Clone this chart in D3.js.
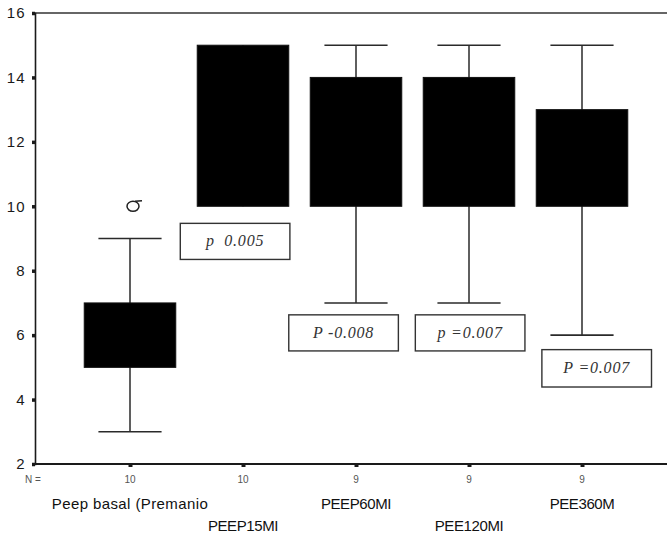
<!DOCTYPE html>
<html>
<head>
<meta charset="utf-8">
<script src="https://cdn.jsdelivr.net/npm/d3@7"></script>
<style>
  html, body { margin: 0; padding: 0; background: #fff; }
  svg { display: block; }
  text { white-space: pre; }
</style>
</head>
<body>
<svg id="chart" width="667" height="542"></svg>
<script>
// ---- data ----
const categories = ["Peep basal (Premanio", "PEEP15MI", "PEEP60MI", "PEE120MI", "PEE360M"];
const nCounts    = [10, 10, 9, 9, 9];
const whiskerMin = [3, 10, 7, 7, 6];
const q1Values   = [5, 10, 10, 10, 10];
const q3Values   = [7, 15, 14, 14, 13];
const whiskerMax = [9, 15, 15, 15, 15];
const outliers   = [{cat: "Peep basal (Premanio", value: 10}];
const yTicks     = [2, 4, 6, 8, 10, 12, 14, 16];
// p-value annotations: anchored to a category, offset as fraction of band step, y-range in data units
const pLabels    = [
  {cat: "PEEP15MI", dx: -0.07, top: 9.47, bottom: 8.35, text: "p  0.005"},
  {cat: "PEEP60MI", dx: -0.11, top: 6.63, bottom: 5.51, text: "P -0.008"},
  {cat: "PEE120MI", dx: 0.01,  top: 6.63, bottom: 5.51, text: "p =0.007"},
  {cat: "PEE360M",  dx: 0.13,  top: 5.55, bottom: 4.39, text: "P =0.007"}
];

// ---- layout ----
const svg = d3.select("#chart");
const axisLeftX = 35, plotRight = 667, plotTop = 13, plotBottom = 464;
const ink = "#1a1a1a";

const y = d3.scaleLinear().domain([2, 16]).range([plotBottom, plotTop]);
const x = d3.scaleBand().domain(categories).range([73.5, 638.5])
  .paddingInner(0.19).paddingOuter(0.095);

const boxes = categories.map((c, i) => ({
  cat: c, n: nCounts[i], lo: whiskerMin[i], q1: q1Values[i], q3: q3Values[i], hi: whiskerMax[i]
}));

// frame: top line, bottom axis
svg.append("line").attr("x1", axisLeftX).attr("x2", plotRight)
  .attr("y1", plotTop).attr("y2", plotTop)
  .attr("stroke", "#333").attr("stroke-width", 1.6);
svg.append("line").attr("x1", axisLeftX).attr("x2", plotRight)
  .attr("y1", plotBottom).attr("y2", plotBottom)
  .attr("stroke", ink).attr("stroke-width", 1.8);

// y axis
const yAxis = svg.append("g").attr("transform", `translate(${axisLeftX},0)`)
  .call(d3.axisLeft(y).tickValues(yTicks).tickSize(3).tickPadding(6).tickFormat(d3.format("d")));
yAxis.select(".domain").attr("stroke", ink).attr("stroke-width", 1.6);
yAxis.selectAll(".tick line").attr("stroke", ink).attr("stroke-width", 3.5);
yAxis.selectAll(".tick text")
  .attr("font-family", "Liberation Sans, Arial, sans-serif")
  .attr("font-size", 15).attr("letter-spacing", 1.3).attr("fill", "#1a1a1a");

// x axis ticks (small marks at band centers)
const centers = d3.scalePoint().domain(categories)
  .range([x(categories[0]) + x.bandwidth()/2, x(categories[categories.length-1]) + x.bandwidth()/2]);
const xAxis = svg.append("g").attr("transform", `translate(0,${plotBottom})`)
  .call(d3.axisBottom(centers).tickSize(3).tickFormat(""));
xAxis.select(".domain").remove();
xAxis.selectAll(".tick line").attr("stroke", ink).attr("stroke-width", 4);

const cx = c => x(c) + x.bandwidth() / 2;
const capHalf = x.bandwidth() * 0.345;

// whiskers
const g = svg.append("g");
g.selectAll("line.stem").data(boxes).join("line")
  .attr("x1", d => cx(d.cat)).attr("x2", d => cx(d.cat))
  .attr("y1", d => y(d.lo)).attr("y2", d => y(d.hi))
  .attr("stroke", "#2a2a2a").attr("stroke-width", 1.5);
g.selectAll("line.capHi").data(boxes.filter(d => d.hi > d.q3)).join("line")
  .attr("x1", d => cx(d.cat) - capHalf).attr("x2", d => cx(d.cat) + capHalf)
  .attr("y1", d => y(d.hi)).attr("y2", d => y(d.hi))
  .attr("stroke", "#2a2a2a").attr("stroke-width", 1.6);
g.selectAll("line.capLo").data(boxes.filter(d => d.lo < d.q1)).join("line")
  .attr("x1", d => cx(d.cat) - capHalf).attr("x2", d => cx(d.cat) + capHalf)
  .attr("y1", d => y(d.lo)).attr("y2", d => y(d.lo))
  .attr("stroke", "#2a2a2a").attr("stroke-width", 1.6);

// boxes
g.selectAll("rect.box").data(boxes).join("rect")
  .attr("x", d => x(d.cat)).attr("width", x.bandwidth())
  .attr("y", d => y(d.q3)).attr("height", d => y(d.q1) - y(d.q3))
  .attr("fill", "#000").attr("stroke", "#111").attr("stroke-width", 1);

// outliers (SPSS style circle)
const og = svg.append("g");
outliers.forEach(o => {
  const ox = cx(o.cat) + 3, oy = y(o.value);
  og.append("ellipse").attr("cx", ox).attr("cy", oy).attr("rx", 6).attr("ry", 5)
    .attr("fill", "none").attr("stroke", "#222").attr("stroke-width", 1.5);
  og.append("line").attr("x1", ox + 2).attr("x2", ox + 9)
    .attr("y1", oy - 5).attr("y2", oy - 5.5)
    .attr("stroke", "#222").attr("stroke-width", 1.5);
});

// p-value boxes
const pg = svg.append("g");
pLabels.forEach(p => {
  const w = x.step() * 0.97;
  const c = cx(p.cat) + p.dx * x.step();
  pg.append("rect").attr("x", c - w / 2).attr("width", w)
    .attr("y", y(p.top)).attr("height", y(p.bottom) - y(p.top))
    .attr("fill", "#fff").attr("stroke", "#333").attr("stroke-width", 1.4);
  pg.append("text").attr("x", c).attr("y", (y(p.top) + y(p.bottom)) / 2 + 5)
    .attr("text-anchor", "middle")
    .attr("font-family", "Liberation Serif, Times New Roman, serif")
    .attr("font-style", "italic").attr("font-size", 16).attr("letter-spacing", 0.8)
    .attr("fill", "#333").text(p.text);
});

// N counts
svg.append("text").attr("x", 25).attr("y", 483)
  .attr("font-family", "Liberation Sans, Arial, sans-serif").attr("font-size", 10)
  .attr("fill", "#555").text("N =");
svg.selectAll("text.n").data(boxes).join("text")
  .attr("x", d => cx(d.cat)).attr("y", 483).attr("text-anchor", "middle")
  .attr("font-family", "Liberation Sans, Arial, sans-serif").attr("font-size", 10)
  .attr("fill", "#555").text(d => d.n);

// category labels (staggered)
svg.selectAll("text.cat").data(categories).join("text")
  .attr("x", d => cx(d)).attr("y", (d, i) => i % 2 === 0 ? 509 : 531)
  .attr("text-anchor", "middle")
  .attr("font-family", "Liberation Sans, Arial, sans-serif").attr("font-size", 15)
  .attr("letter-spacing", (d, i) => i === 0 ? 0.4 : -0.4)
  .attr("fill", "#111").text(d => d);
</script>
</body>
</html>
